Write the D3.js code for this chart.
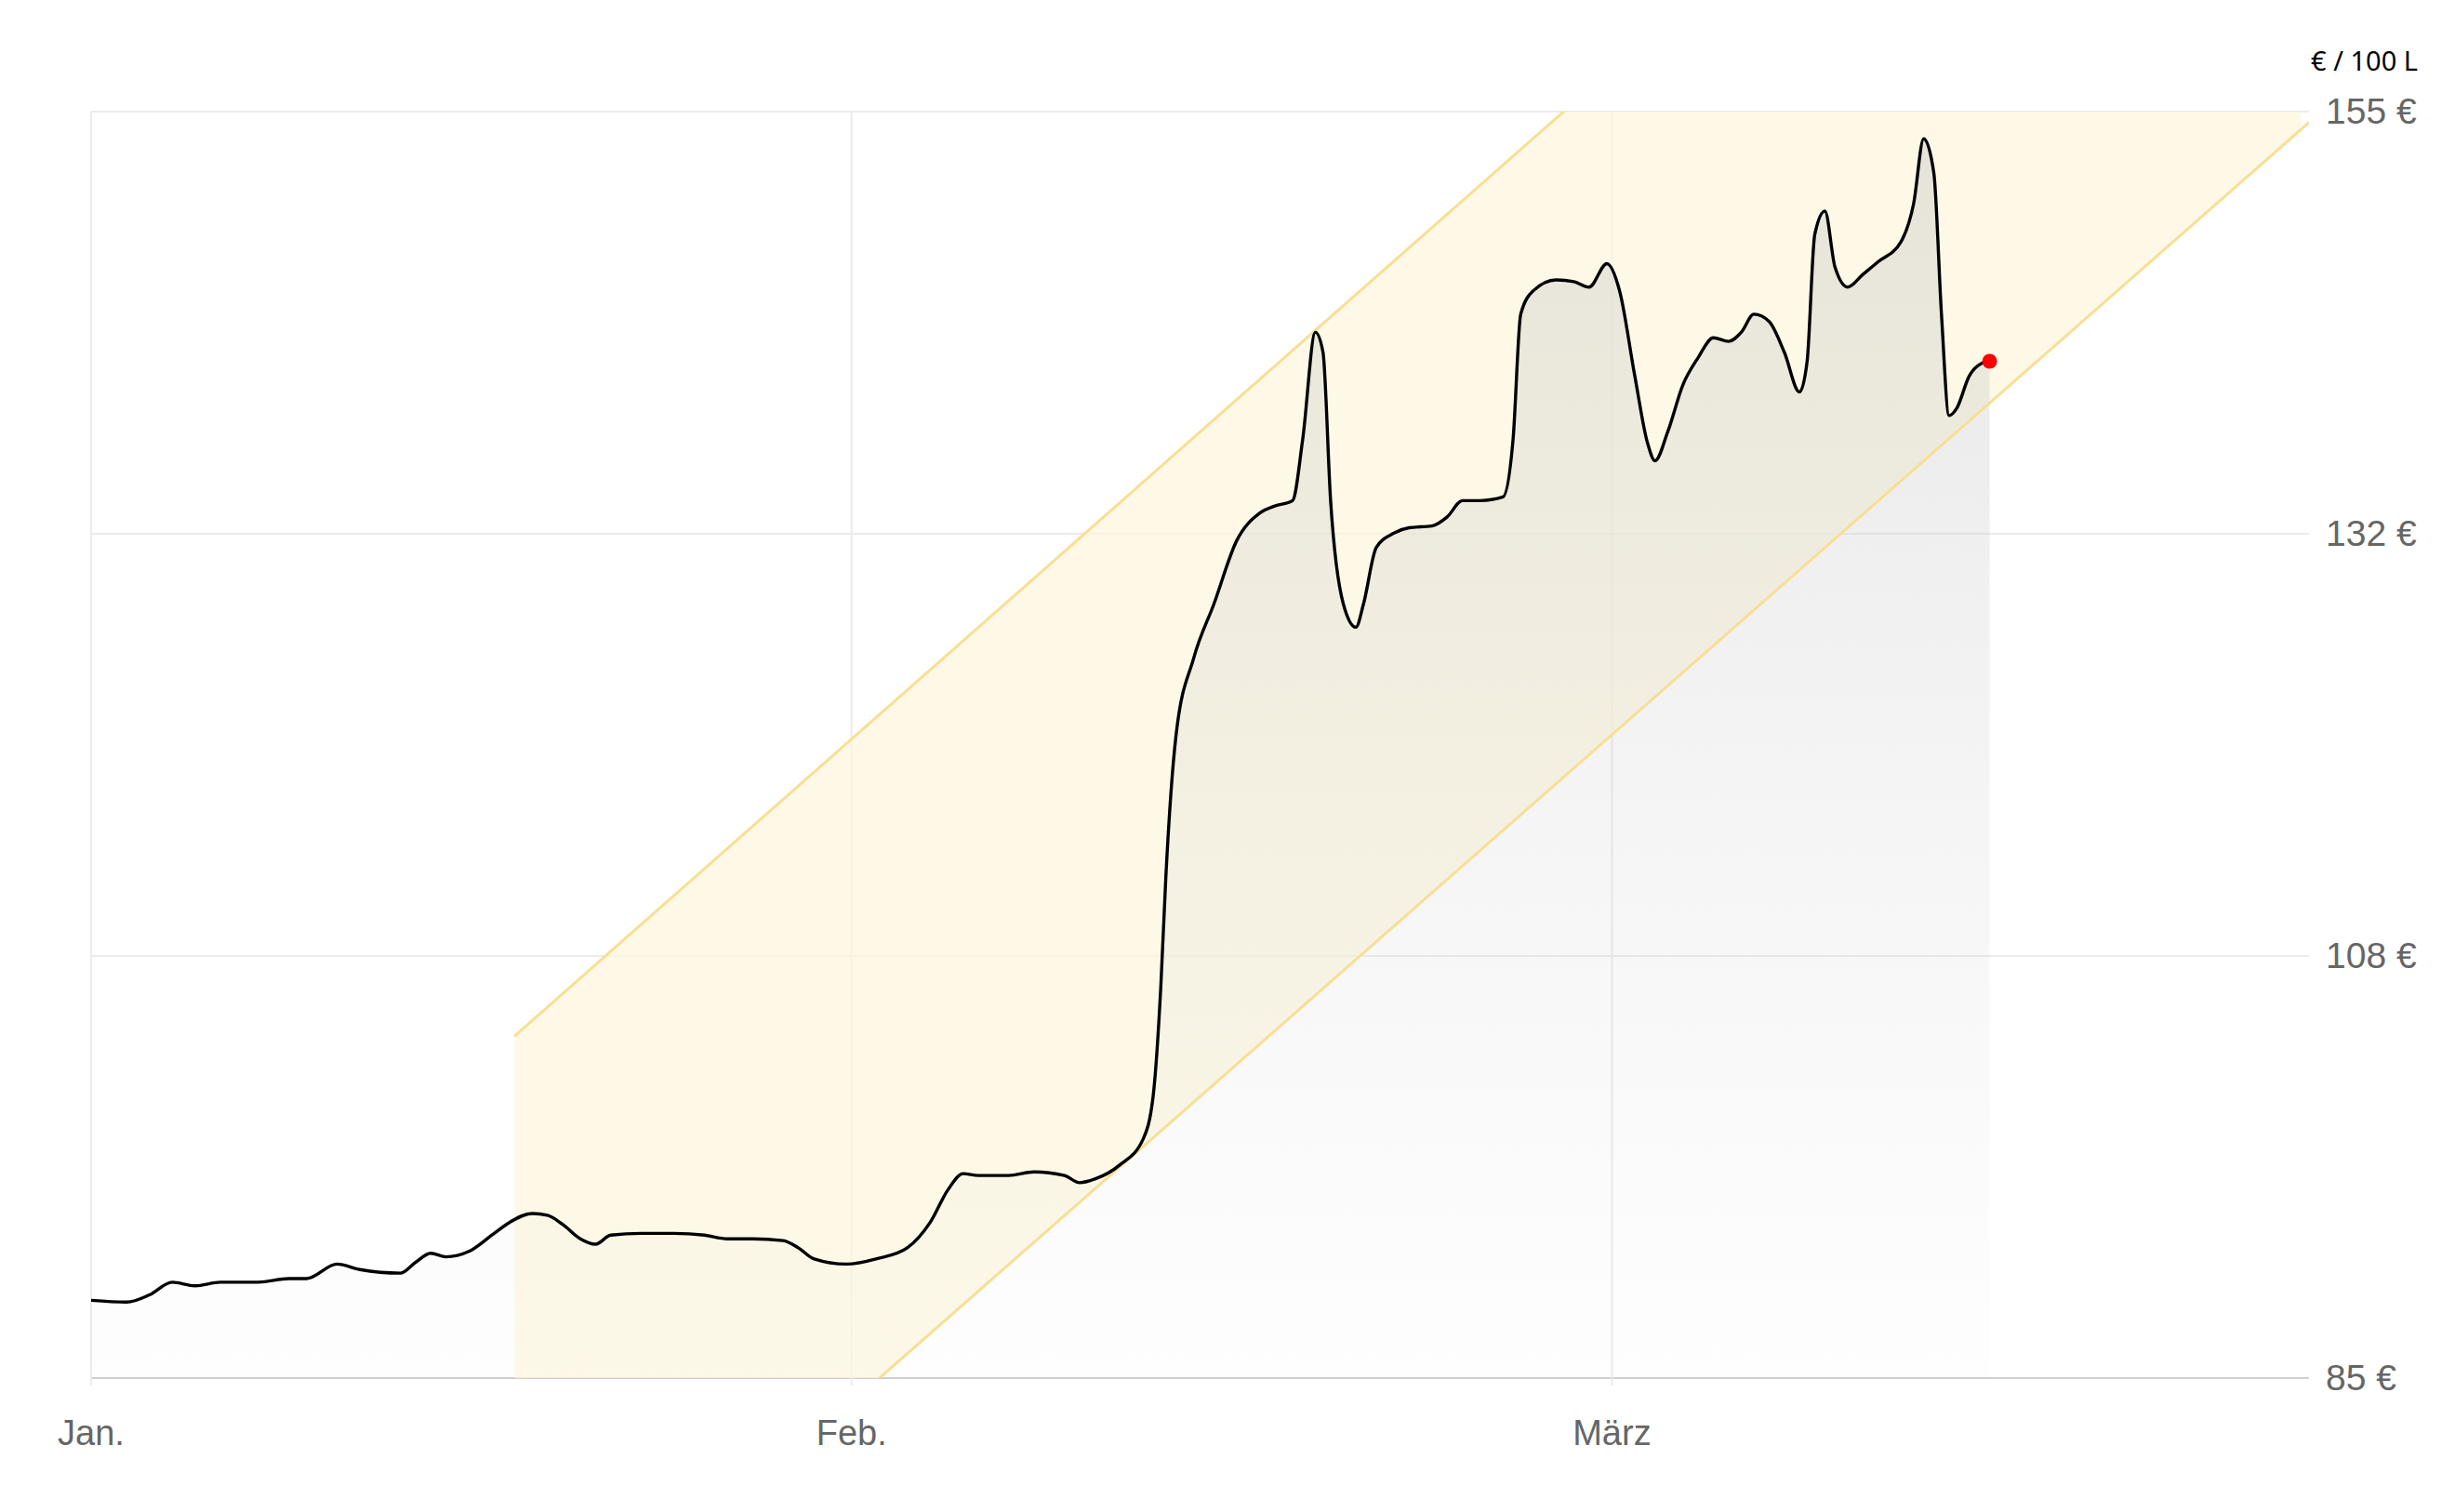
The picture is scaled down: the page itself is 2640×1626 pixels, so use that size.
<!DOCTYPE html>
<html><head><meta charset="utf-8">
<script src="https://cdn.jsdelivr.net/npm/d3@7"></script>
<style>body{margin:0;background:#fff}svg{display:block}</style>
</head><body><svg id="c" width="2640" height="1626"></svg>
<script>
const days=[0,1.4,2.3,3.2,4.1,5.1,6.6,7.8,8.5,9.7,10.6,12.2,12.8,13.4,14.0,14.9,15.9,16.5,17.4,18.0,18.6,19.3,19.9,20.5,21.7,23.0,24.2,25.1,26.1,27.3,27.9,28.5,29.8,31.0,32.2,33.1,33.8,34.4,35.0,36.2,37.2,38.4,39.0,39.6,40.6,41.5,41.9,42.2,42.4,42.8,43.5,44.3,45.2,46.1,46.7,47.4,47.8,48.3,48.6,48.9,49.4,49.9,50.2,50.7,51.4,52.0,52.9,53.5,54.1,54.8,55.7,56.1,56.4,56.9,57.8,58.5,59.1,59.8,60.3,60.9,61.4,61.7,62.2,62.8,63.4,64.0,64.6,65.1,65.6,66.2,66.8,67.4,67.7,68.0,68.4,68.8,69.3,69.9,70.5,71.4,71.9,72.3,72.7,73.0,73.3,73.6,74.1,74.6,74.9];
const prices=[89.3,89.2,89.6,90.3,90.1,90.3,90.3,90.5,90.5,91.3,91.0,90.8,91.4,91.9,91.7,92.0,93.0,93.6,94.1,94.0,93.5,92.7,92.4,92.9,93.0,93.0,92.9,92.7,92.7,92.6,92.2,91.6,91.3,91.6,92.2,93.6,95.4,96.3,96.2,96.2,96.4,96.2,95.8,96.0,96.8,98.2,100.6,106.6,112.7,120.5,124.8,127.8,131.3,132.8,133.2,133.5,136.9,142.8,141.7,133.5,127.8,126.5,127.8,130.9,131.7,132.0,132.1,132.6,133.5,133.5,133.7,136.9,143.8,145.1,145.7,145.6,145.3,146.6,145.1,140.4,136.7,135.7,137.3,139.9,141.4,142.5,142.3,142.8,143.8,143.4,141.7,139.5,141.2,148.2,149.5,146.4,145.3,146.0,146.7,147.8,149.9,153.5,151.6,143.8,138.2,138.6,140.4,141.1,141.2];
const monthDays=[0,30,60];
const monthLabels=["Jan.","Feb.","März"];
const yTicks=[85,108.333,131.667,155];
const channelUpper=[[16.7,103.9],[87.5,191.3]];
const channelLower=[[31.1,85],[87.5,154.4]];
const unitLabel="€ / 100 L";

const L=98,R=2483,T=120,B=1482;
const svg=d3.select("#c");
const x=d3.scaleLinear().domain([0,87.5]).range([L,R]);
const y=d3.scaleLinear().domain([85,155]).range([B,T]);
const defs=svg.append("defs");
defs.append("clipPath").attr("id","clip").append("rect").attr("x",L).attr("y",T).attr("width",R-L).attr("height",B-T);
const g1=defs.append("linearGradient").attr("id","ag").attr("x1",0).attr("x2",0).attr("y1",0).attr("y2",1);
g1.append("stop").attr("offset","0%").attr("stop-color","#c8c8c8").attr("stop-opacity",0.45);
g1.append("stop").attr("offset","100%").attr("stop-color","#d8d8d8").attr("stop-opacity",0.03);

svg.append("g").selectAll("line").data(yTicks).join("line")
 .attr("x1",L).attr("x2",R).attr("y1",d=>y(d)).attr("y2",d=>y(d))
 .attr("stroke",d=>d===85?"#cfcfcf":"#ebebeb").attr("stroke-width",2);
svg.append("g").selectAll("line").data(monthDays).join("line")
 .attr("x1",d=>x(d)).attr("x2",d=>x(d)).attr("y1",T).attr("y2",B+8)
 .attr("stroke","#ebebeb").attr("stroke-width",2);

const cg=svg.append("g").attr("clip-path","url(#clip)");
const ub=d3.scaleLinear().domain(channelUpper.map(d=>d[0])).range(channelUpper.map(d=>d[1]));
const lb=d3.scaleLinear().domain(channelLower.map(d=>d[0])).range(channelLower.map(d=>d[1]));
const cx=d3.range(channelUpper[0][0],87.6,0.5);
cg.append("path").datum(cx).attr("fill","#fdf6dd").attr("fill-opacity",0.7)
 .attr("d",d3.area().x(d=>x(d)).y0(d=>y(Math.max(lb(d),60))).y1(d=>y(ub(d))));
const pts=days.map((d,i)=>[d,prices[i]]);
cg.append("path").datum(pts).attr("fill","url(#ag)")
 .attr("d",d3.area().x(d=>x(d[0])).y0(B).y1(d=>y(d[1])).curve(d3.curveMonotoneX));
[channelUpper,channelLower].forEach(c=>{
 cg.append("line").attr("x1",x(c[0][0])).attr("y1",y(c[0][1])).attr("x2",x(c[1][0])).attr("y2",y(c[1][1]))
  .attr("stroke","#f7df94").attr("stroke-width",3);
});
cg.append("path").datum(pts).attr("fill","none").attr("stroke","#000").attr("stroke-width",3.4)
 .attr("d",d3.line().x(d=>x(d[0])).y(d=>y(d[1])).curve(d3.curveMonotoneX));
svg.append("circle").attr("cx",x(days[days.length-1])).attr("cy",y(prices[prices.length-1])).attr("r",8).attr("fill","#f00");

svg.append("g").selectAll("text").data(yTicks).join("text")
 .attr("x",R+18).attr("y",d=>y(d)+13).attr("font-family","Liberation Sans, Arial").attr("font-size",39).attr("fill","#666")
 .text(d=>Math.round(d)+" €");
svg.append("g").selectAll("text").data(monthDays).join("text")
 .attr("x",d=>x(d)).attr("y",B+72).attr("text-anchor","middle").attr("font-family","Liberation Sans, Arial").attr("font-size",38).attr("fill","#666")
 .text((d,i)=>monthLabels[i]);
svg.append("text").attr("x",2600).attr("y",76).attr("text-anchor","end").attr("font-family","Noto Sans, sans-serif").attr("font-size",29).attr("fill","#000").text(unitLabel);
</script></body></html>
